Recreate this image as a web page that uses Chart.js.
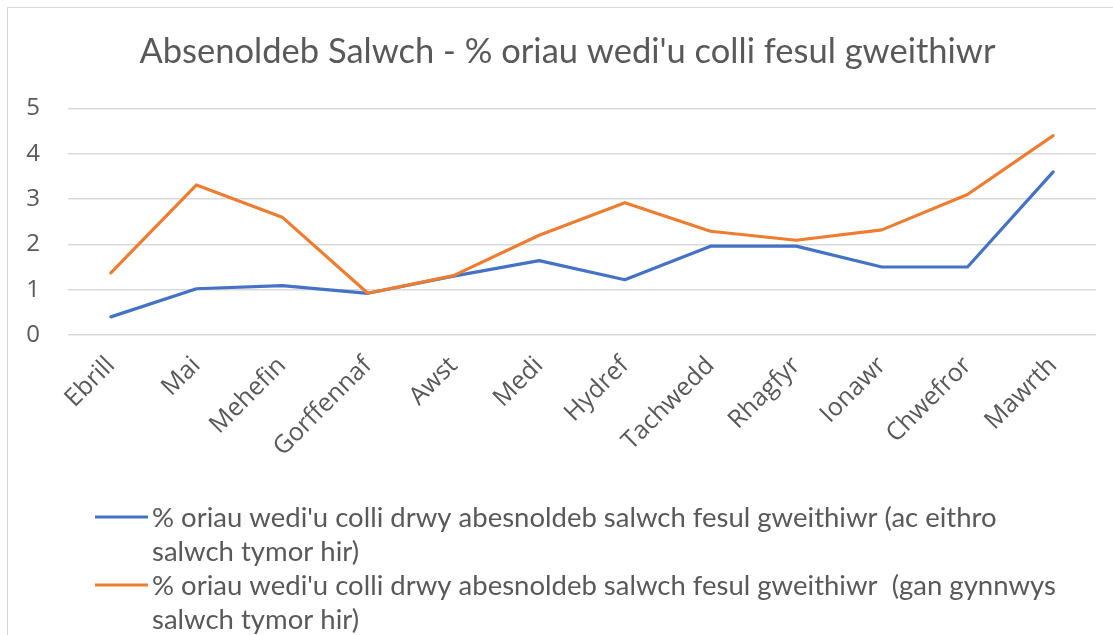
<!DOCTYPE html>
<html>
<head>
<meta charset="utf-8">
<script src="https://cdn.jsdelivr.net/npm/chart.js@4"></script>
<style>
  html, body { margin: 0; padding: 0; background: #fff; }
  #wrap { position: relative; width: 1113px; height: 635px; overflow: hidden; }
  #frame { position: absolute; left: 7px; top: 7px; width: 1200px; height: 700px; border: 1px solid #d9d9d9; }
  #chart { position: absolute; left: 0; top: 0; }
</style>
</head>
<body>
<div id="wrap">
  <div id="frame"></div>
  <canvas id="chart" width="1113" height="635"></canvas>
</div>
<script>
const months = ['Ebrill', 'Mai', 'Mehefin', 'Gorffennaf', 'Awst', 'Medi', 'Hydref', 'Tachwedd', 'Rhagfyr', 'Ionawr', 'Chwefror', 'Mawrth'];

// ac eithro salwch tymor hir
const excludingLongTerm = [0.40, 1.02, 1.09, 0.92, 1.30, 1.64, 1.22, 1.96, 1.96, 1.50, 1.50, 3.60];
// gan gynnwys salwch tymor hir
const includingLongTerm = [1.37, 3.31, 2.60, 0.92, 1.31, 2.20, 2.92, 2.29, 2.09, 2.32, 3.10, 4.40];

const yTicks = [0, 1, 2, 3, 4, 5];

const chartTitle = "Absenoldeb Salwch - % oriau wedi'u colli fesul gweithiwr";
const seriesLabels = [
    ["% oriau wedi'u colli drwy abesnoldeb salwch fesul gweithiwr (ac eithro", "salwch tymor hir)"],
    ["% oriau wedi'u colli drwy abesnoldeb salwch fesul gweithiwr  (gan gynnwys", "salwch tymor hir)"]
];

const blue = '#4472C4';
const orange = '#ED7D31';
const textGrey = '#595959';

// the original title sits a little right of the canvas centre
const nudgeTitle = {
    id: 'nudgeTitle',
    afterLayout(chart) {
        if (chart.titleBlock) {
            chart.titleBlock.left += 19.5;
            chart.titleBlock.right += 19.5;
        }
    }
};

// legend drawn by hand so the long labels can wrap like the original
const wrappedLegend = {
    id: 'wrappedLegend',
    afterDraw(chart) {
        const ctx = chart.ctx;
        const colours = [blue, orange];
        const lineHeight = 34.5;
        let y = 517;
        ctx.save();
        ctx.font = '27.5px Lato, sans-serif';
        ctx.fillStyle = textGrey;
        ctx.textBaseline = 'middle';
        seriesLabels.forEach((lines, i) => {
            ctx.strokeStyle = colours[i];
            ctx.lineWidth = 3;
            ctx.beginPath();
            ctx.moveTo(95, y);
            ctx.lineTo(148, y);
            ctx.stroke();
            lines.forEach((line, j) => {
                ctx.fillText(line, 152, y + 1 + j * lineHeight);
            });
            y += lines.length * lineHeight - 1;
        });
        ctx.restore();
    }
};

new Chart(document.getElementById('chart').getContext('2d'), {
    type: 'line',
    data: {
        labels: months,
        datasets: [{
            label: seriesLabels[0].join(' '),
            data: excludingLongTerm,
            borderColor: blue,
            borderWidth: 3.2,
            order: 1
        }, {
            label: seriesLabels[1].join(' '),
            data: includingLongTerm,
            borderColor: orange,
            borderWidth: 3.2,
            order: 0
        }]
    },
    options: {
        responsive: false,
        animation: false,
        layout: {
            padding: { top: 0, right: 17, bottom: 160, left: 0 }
        },
        elements: {
            line: { tension: 0, borderCapStyle: 'round', borderJoinStyle: 'round', fill: false },
            point: { radius: 0, hoverRadius: 0 }
        },
        scales: {
            x: {
                offset: true,
                grid: { display: false, drawTicks: false },
                border: { display: false },
                ticks: {
                    color: textGrey,
                    font: { family: '"Open Sans", sans-serif', size: 25 },
                    minRotation: 45,
                    maxRotation: 45,
                    padding: 16,
                    autoSkip: false
                },
                afterFit(scale) { scale.height = 140; }
            },
            y: {
                min: 0,
                max: 5,
                afterBuildTicks(scale) { scale.ticks = yTicks.map(v => ({ value: v })); },
                grid: { color: '#d9d9d9', lineWidth: 1.5, drawTicks: false },
                border: { display: false },
                ticks: {
                    color: textGrey,
                    font: { family: '"Open Sans", sans-serif', size: 24 },
                    padding: 28
                },
                afterFit(scale) { scale.width = 68; }
            }
        },
        plugins: {
            legend: { display: false },
            tooltip: { enabled: false },
            title: {
                display: true,
                text: chartTitle,
                color: textGrey,
                font: { family: 'Lato, sans-serif', size: 34.5, weight: 'normal' },
                padding: { top: 31, bottom: 36 }
            }
        }
    },
    plugins: [nudgeTitle, wrappedLegend]
});
</script>
</body>
</html>
